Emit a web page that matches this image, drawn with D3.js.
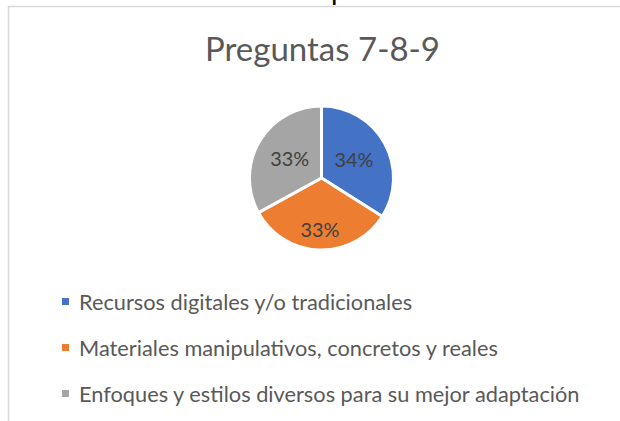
<!DOCTYPE html>
<html lang="es">
<head>
<meta charset="utf-8"/>
<style>
  body { margin: 0; background: #FFFFFF; }
  * { font-family: "Lato", "Open Sans", sans-serif; }
</style>
</head>
<body>
<svg id="container" width="620" height="421"></svg>

<script src="https://d3js.org/d3.v7.min.js"></script>
<script>
  // data
  let categories = ["Recursos digitales y/o tradicionales",
                    "Materiales manipulativos, concretos y reales",
                    "Enfoques y estilos diversos para su mejor adaptación"]
  let values = [34, 33, 33]
  let colors = ["#4472C4", "#ED7D31", "#A5A5A5"]
  let title = "Preguntas 7-8-9"

  let svg = d3.select("svg")
  let width = 620, height = 421

  // fit a text's font size so its width matches the reference
  function fit(sel, target) {
    let len = sel.node().getComputedTextLength()
    let fs = parseFloat(sel.attr("font-size"))
    sel.attr("font-size", fs * target / len)
  }

  // descender of the text line above the chart, cut by the top edge
  svg.append("text")
    .attr("x", 331).attr("y", 0)
    .attr("font-size", 28)
    .attr("fill", "#000")
    .text("p")

  // chart frame (only top and left edges visible)
  svg.append("rect")
    .attr("x", 8.5).attr("y", 6.5)
    .attr("width", 700).attr("height", 500)
    .attr("fill", "none")
    .attr("stroke", "#D9D9D9")
    .attr("stroke-width", 1.5)

  let t = svg.append("text")
    .attr("x", 322.5).attr("y", 61)
    .attr("text-anchor", "middle")
    .attr("font-size", 34)
    .attr("fill", "#595959")
    .text(title)
  fit(t, 235)

  // pie
  let cx = 321.5, cy = 178, r = 72
  let pie = d3.pie().sort(null).value(d => d)
  let arcs = pie(values)
  let arc = d3.arc().innerRadius(0).outerRadius(r)
  let total = d3.sum(values)

  let g = svg.append("g").attr("transform", `translate(${cx},${cy})`)

  g.selectAll("path")
    .data(arcs)
    .enter()
    .append("path")
    .attr("d", arc)
    .attr("fill", (d, i) => colors[i])
    .attr("stroke", "#FFFFFF")
    .attr("stroke-width", 3)
    .attr("stroke-linejoin", "round")

  let labelR = [37, 52, 37]
  g.selectAll("text.lbl")
    .data(arcs)
    .enter()
    .append("text")
    .attr("class", "lbl")
    .attr("transform", (d, i) => {
      let c = d3.arc().innerRadius(labelR[i]).outerRadius(labelR[i]).centroid(d)
      return `translate(${c[0]},${c[1]})`
    })
    .attr("text-anchor", "middle")
    .attr("dy", "0.35em")
    .attr("font-size", 21)
    .attr("fill", "#404040")
    .text(d => Math.round(d.value / total * 100) + "%")
    .each(function () { fit(d3.select(this), 39) })

  // legend
  let legendY = d3.scalePoint().domain(categories).range([310, 402])
  let leg = svg.append("g")
  leg.selectAll("rect")
    .data(categories)
    .enter()
    .append("rect")
    .attr("x", 62).attr("y", d => legendY(d) - 12)
    .attr("width", 7).attr("height", 7)
    .attr("fill", (d, i) => colors[i])

  let lt = leg.selectAll("text")
    .data(categories)
    .enter()
    .append("text")
    .attr("x", 79).attr("y", d => legendY(d))
    .attr("font-size", 20)
    .attr("fill", "#595959")
    .text(d => d)

  // use the longest line to set one size for all
  let last = lt.filter((d, i) => i === 2)
  let len = last.node().getComputedTextLength()
  lt.attr("font-size", 20 * 501 / len)
</script>
</body>
</html>
